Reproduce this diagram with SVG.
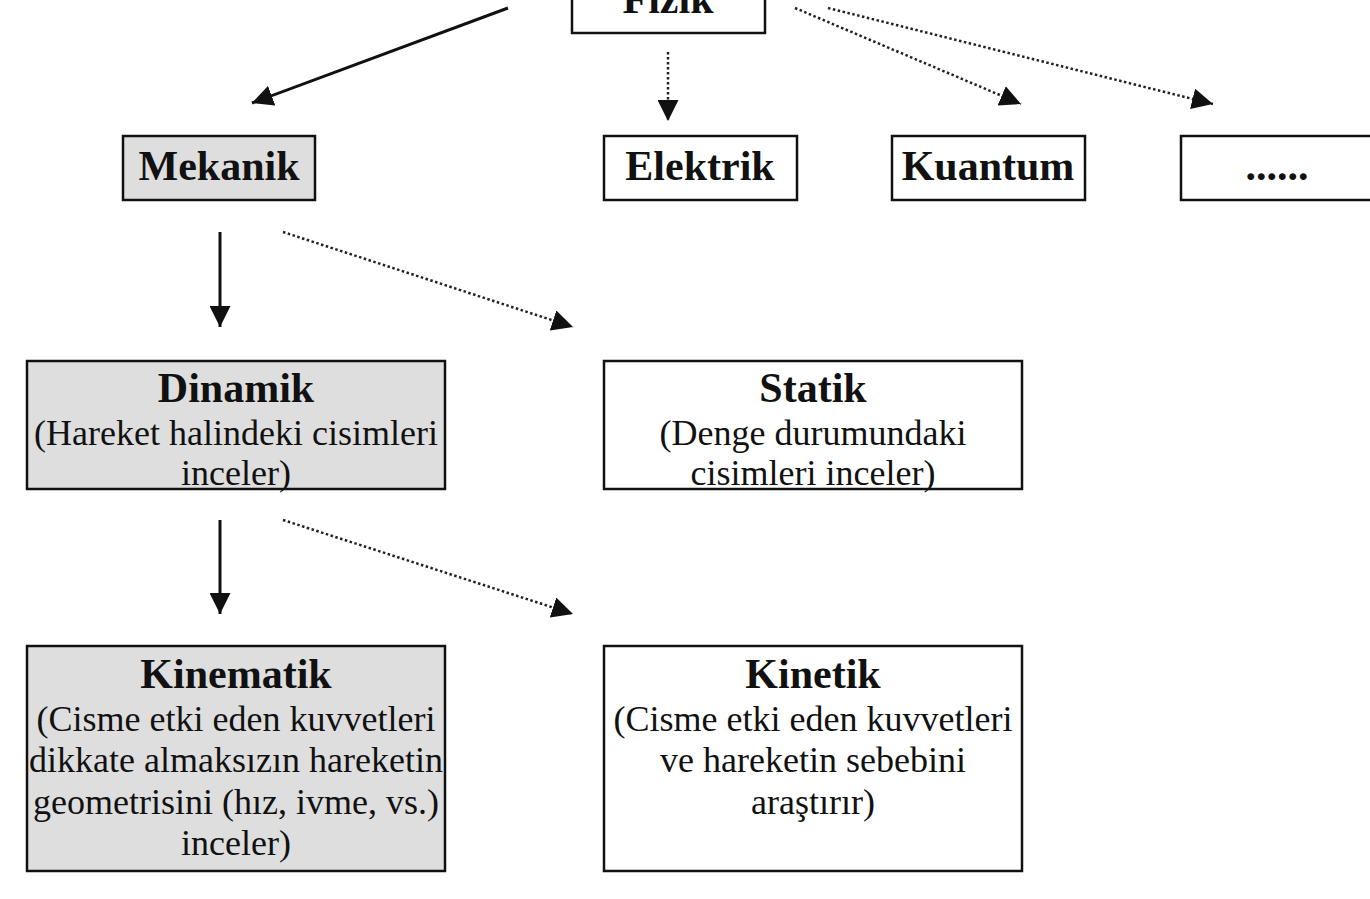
<svg xmlns="http://www.w3.org/2000/svg" width="1370" height="899" viewBox="0 0 1370 899">
<defs>
<style>
.box{fill:#fff;stroke:#111;stroke-width:2.5}
.gray{fill:#dedede}
.t{font-family:"Liberation Serif","Times New Roman",serif;font-weight:bold;font-size:42px;fill:#111;text-anchor:middle}
.d{font-family:"Liberation Serif","Times New Roman",serif;font-size:36px;fill:#111;text-anchor:middle}
.solid{stroke:#111;stroke-width:3;fill:none}
.dot{stroke:#222;stroke-width:2.5;fill:none;stroke-dasharray:2.5 2.5}
</style>
<marker id="ah" viewBox="0 0 10 10" refX="10" refY="5" markerWidth="21" markerHeight="21" markerUnits="userSpaceOnUse" orient="auto">
<path d="M0,0 L10,5 L0,10 Z" fill="#111"/>
</marker>
</defs>
<rect width="1370" height="899" fill="#fff"/>
<g id="connectors">
<line class="solid" x1="508" y1="8" x2="252" y2="103" marker-end="url(#ah)"/>
<line class="dot" x1="668" y1="52" x2="668" y2="121" marker-end="url(#ah)"/>
<line class="dot" x1="795" y1="8" x2="1021" y2="104" marker-end="url(#ah)"/>
<line class="dot" x1="828" y1="8" x2="1213" y2="104" marker-end="url(#ah)"/>
<line class="solid" x1="220" y1="232" x2="220" y2="327" marker-end="url(#ah)"/>
<line class="dot" x1="283" y1="232" x2="573" y2="327" marker-end="url(#ah)"/>
<line class="solid" x1="220" y1="520" x2="220" y2="614" marker-end="url(#ah)"/>
<line class="dot" x1="283" y1="520" x2="573" y2="614" marker-end="url(#ah)"/>
</g>
<g id="fizik">
<rect class="box" x="572" y="-40" width="193" height="73"/>
<text class="t" x="668" y="13">Fizik</text>
</g>
<g id="mekanik">
<rect class="box gray" x="123" y="136" width="192" height="64"/>
<text class="t" x="219" y="180">Mekanik</text>
</g>
<g id="elektrik">
<rect class="box" x="604" y="136" width="193" height="64"/>
<text class="t" x="700" y="180">Elektrik</text>
</g>
<g id="kuantum">
<rect class="box" x="892" y="136" width="193" height="64"/>
<text class="t" x="988" y="180">Kuantum</text>
</g>
<g id="diger">
<rect class="box" x="1181" y="136" width="200" height="64"/>
<text class="t" x="1277" y="180">......</text>
</g>
<g id="dinamik">
<rect class="box gray" x="27" y="361" width="418" height="128"/>
<text class="t" x="236" y="402">Dinamik</text>
<text class="d" x="236" y="445">(Hareket halindeki cisimleri</text>
<text class="d" x="236" y="485">inceler)</text>
</g>
<g id="statik">
<rect class="box" x="604" y="361" width="418" height="128"/>
<text class="t" x="813" y="402">Statik</text>
<text class="d" x="813" y="445">(Denge durumundaki</text>
<text class="d" x="813" y="485">cisimleri inceler)</text>
</g>
<g id="kinematik">
<rect class="box gray" x="27" y="646" width="418" height="225"/>
<text class="t" x="236" y="688">Kinematik</text>
<text class="d" x="236" y="731">(Cisme etki eden kuvvetleri</text>
<text class="d" x="236" y="772">dikkate almaksızın hareketin</text>
<text class="d" x="236" y="814">geometrisini (hız, ivme, vs.)</text>
<text class="d" x="236" y="855">inceler)</text>
</g>
<g id="kinetik">
<rect class="box" x="604" y="646" width="418" height="225"/>
<text class="t" x="813" y="688">Kinetik</text>
<text class="d" x="813" y="731">(Cisme etki eden kuvvetleri</text>
<text class="d" x="813" y="772">ve hareketin sebebini</text>
<text class="d" x="813" y="814">araştırır)</text>
</g>
</svg>
